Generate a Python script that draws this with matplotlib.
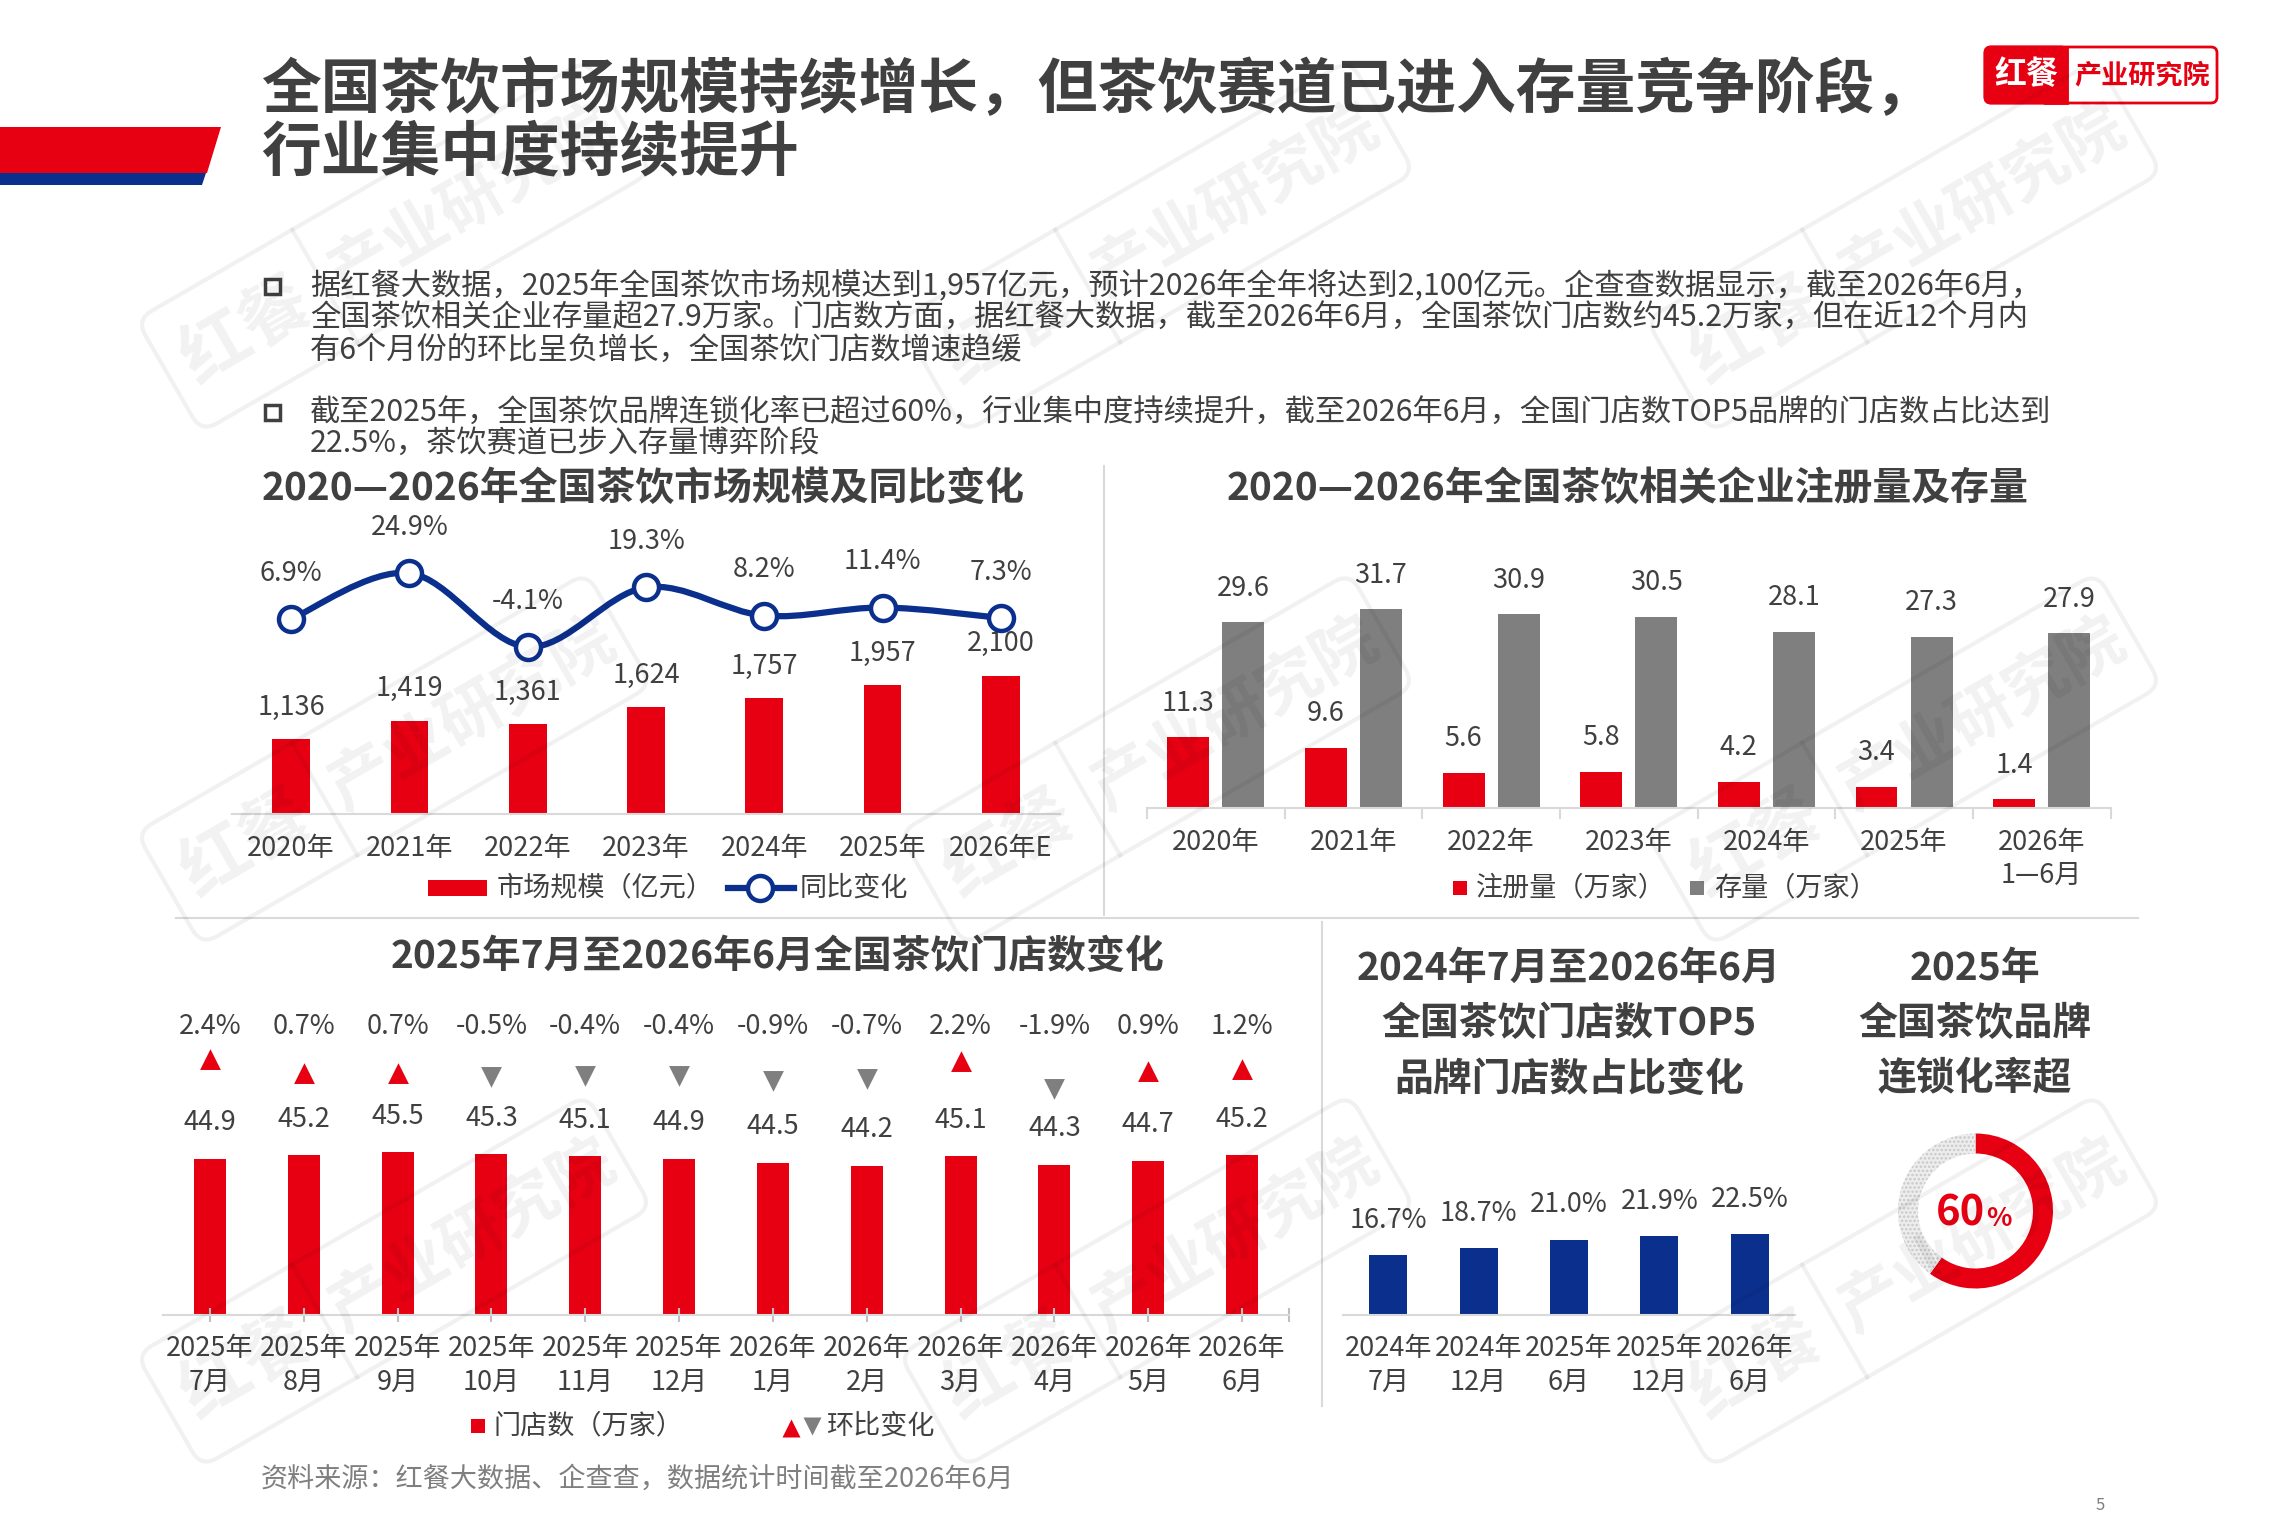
import matplotlib
matplotlib.use('Agg')
import matplotlib.pyplot as plt
from matplotlib.path import Path
from matplotlib.patches import PathPatch, Rectangle, Polygon, FancyBboxPatch
from matplotlib.transforms import Affine2D
import numpy as np

plt.rcParams['font.family'] = ['Noto Sans CJK SC', 'DejaVu Sans']
plt.rcParams['hatch.color'] = '#C8C8C8'
plt.rcParams['hatch.linewidth'] = 1.2

RED = '#E60012'
NAVY = '#0B2F8C'
GRAY_BAR = '#7F7F7F'
TXT = '#404040'
LINE = '#D9D9D9'
FS = 19.5

# ---- data ----
years = ['2020年', '2021年', '2022年', '2023年', '2024年', '2025年', '2026年E']
market = [1136, 1419, 1361, 1624, 1757, 1957, 2100]          # 亿元
market_yoy = [6.9, 24.9, -4.1, 19.3, 8.2, 11.4, 7.3]          # %

reg_years = ['2020年', '2021年', '2022年', '2023年', '2024年', '2025年', '2026年\n1—6月']
registered = [11.3, 9.6, 5.6, 5.8, 4.2, 3.4, 1.4]             # 万家
stock = [29.6, 31.7, 30.9, 30.5, 28.1, 27.3, 27.9]            # 万家

months = ['2025年\n7月', '2025年\n8月', '2025年\n9月', '2025年\n10月', '2025年\n11月',
          '2025年\n12月', '2026年\n1月', '2026年\n2月', '2026年\n3月', '2026年\n4月',
          '2026年\n5月', '2026年\n6月']
stores = [44.9, 45.2, 45.5, 45.3, 45.1, 44.9, 44.5, 44.2, 45.1, 44.3, 44.7, 45.2]
store_mom = [2.4, 0.7, 0.7, -0.5, -0.4, -0.4, -0.9, -0.7, 2.2, -1.9, 0.9, 1.2]

top5_periods = ['2024年\n7月', '2024年\n12月', '2025年\n6月', '2025年\n12月', '2026年\n6月']
top5_share = [16.7, 18.7, 21.0, 21.9, 22.5]

chain_rate = 60

# ---- layout helpers (pixel coords, origin top-left) ----
W, H = 2296, 1530
def rect(x0, y0, x1, y1):
    return [x0 / W, 1 - y1 / H, (x1 - x0) / W, (y1 - y0) / H]

fig = plt.figure(figsize=(22.96, 15.30), dpi=100)
bg = fig.add_axes([0, 0, 1, 1])
bg.set_xlim(0, W)
bg.set_ylim(H, 0)
bg.axis('off')

# header banner
bg.add_patch(Polygon([(0, 127), (221, 127), (207, 173), (0, 173)], closed=True, fc=RED, ec='none'))
bg.add_patch(Polygon([(0, 173), (206, 173), (202, 185), (0, 185)], closed=True, fc=NAVY, ec='none'))

bg.text(261, 91, '全国茶饮市场规模持续增长，但茶饮赛道已进入存量竞争阶段，', fontsize=43,
        fontweight='heavy', color=TXT, ha='left', va='center')
bg.text(261, 153, '行业集中度持续提升', fontsize=43, fontweight='heavy', color=TXT, ha='left', va='center')

# logo
bg.add_patch(FancyBboxPatch((1985, 47), 232, 56, boxstyle='round,pad=0,rounding_size=6',
                            fc='white', ec=RED, lw=2))
bg.add_patch(FancyBboxPatch((1985, 47), 82, 56, boxstyle='round,pad=0,rounding_size=6',
                            fc=RED, ec=RED, lw=2))
bg.add_patch(Rectangle((2045, 47), 22, 56, fc=RED, ec=RED, lw=2))
bg.text(2026, 75, '红餐', fontsize=23, fontweight='bold', color='white', ha='center', va='center')
bg.text(2142, 75, '产业研究院', fontsize=19.5, fontweight='bold', color=RED, ha='center', va='center')

# bullets
bullet1 = ['据红餐大数据，2025年全国茶饮市场规模达到1,957亿元，预计2026年全年将达到2,100亿元。企查查数据显示，截至2026年6月，',
           '全国茶饮相关企业存量超27.9万家。门店数方面，据红餐大数据，截至2026年6月，全国茶饮门店数约45.2万家，但在近12个月内',
           '有6个月份的环比呈负增长，全国茶饮门店数增速趋缓']
bullet2 = ['截至2025年，全国茶饮品牌连锁化率已超过60%，行业集中度持续提升，截至2026年6月，全国门店数TOP5品牌的门店数占比达到',
           '22.5%，茶饮赛道已步入存量博弈阶段']
for y0, lines in [(286, bullet1), (412, bullet2)]:
    bg.add_patch(Rectangle((265, y0 - 7.5), 15, 15, fc='white', ec=TXT, lw=2.5))
    for k, s in enumerate(lines):
        bg.text(310, y0 + k * 32.3, s, fontsize=21.8, color=TXT, ha='left', va='center')

# dividers
bg.plot([1104, 1104], [466, 915], color=LINE, lw=1.5)
bg.plot([176, 2138], [918, 918], color=LINE, lw=1.5)
bg.plot([1322, 1322], [922, 1406], color=LINE, lw=1.5)

# section titles
TFS = 28
bg.text(643, 488, '2020—2026年全国茶饮市场规模及同比变化', fontsize=TFS, fontweight='bold',
        color=TXT, ha='center', va='center')
bg.text(1628, 488, '2020—2026年全国茶饮相关企业注册量及存量', fontsize=TFS, fontweight='bold',
        color=TXT, ha='center', va='center')
bg.text(778, 956, '2025年7月至2026年6月全国茶饮门店数变化', fontsize=TFS, fontweight='bold',
        color=TXT, ha='center', va='center')
for k, s in enumerate(['2024年7月至2026年6月', '全国茶饮门店数TOP5', '品牌门店数占比变化']):
    bg.text(1569, 968 + k * 55.5, s, fontsize=TFS, fontweight='bold', color=TXT, ha='center', va='center')
for k, s in enumerate(['2025年', '全国茶饮品牌', '连锁化率超']):
    bg.text(1975, 968 + k * 55.5, s, fontsize=TFS, fontweight='bold', color=TXT, ha='center', va='center')

bg.text(261, 1479, '资料来源：红餐大数据、企查查，数据统计时间截至2026年6月', fontsize=19.5,
        color='#7F7F7F', ha='left', va='center')
bg.text(2100, 1505, '5', fontsize=12, color='#7F7F7F', ha='center', va='center')


def base_axis(ax):
    ax.set_facecolor('none')
    for s in ['top', 'right', 'left']:
        ax.spines[s].set_visible(False)
    ax.spines['bottom'].set_color(LINE)
    ax.spines['bottom'].set_linewidth(1.5)
    ax.set_yticks([])
    ax.tick_params(axis='x', length=0, labelbottom=False)


def cat_labels(ax, labels, off1, off2):
    for i, lab in enumerate(labels):
        parts = lab.split('\n')
        for part, off in zip(parts, (off1, off2)):
            ax.annotate(part, (i, 0), xycoords=('data', 'axes fraction'), xytext=(0, off),
                        textcoords='offset points', ha='center', va='center', fontsize=FS,
                        color=TXT, annotation_clip=False)


# ---- chart 1: market size + yoy ----
ax1 = fig.add_axes(rect(232, 530, 1060, 814))
base_axis(ax1)
x1 = np.arange(len(years))
ax1.bar(x1, market, width=0.32, color=RED)
ax1.set_xlim(-0.5, 6.5)
ax1.set_ylim(0, 4316)
for i, v in enumerate(market):
    ax1.annotate(f'{v:,}', (i, v), xytext=(0, 23), textcoords='offset points',
                 ha='center', va='center', fontsize=FS, color=TXT)
cat_labels(ax1, years, -24.5, -48)

ax1b = ax1.twinx()
ax1b.set_ylim(-69.6, 41.8)
ax1b.axis('off')
pts = np.column_stack([x1, market_yoy]).astype(float)
ext = np.vstack([pts[0], pts, pts[-1]])
verts = [tuple(pts[0])]
codes = [Path.MOVETO]
for i in range(len(pts) - 1):
    p0, p1, p2, p3 = ext[i], ext[i + 1], ext[i + 2], ext[i + 3]
    verts += [tuple(p1 + (p2 - p0) / 6), tuple(p2 - (p3 - p1) / 6), tuple(p2)]
    codes += [Path.CURVE4] * 3
ax1b.add_patch(PathPatch(Path(verts, codes), fc='none', ec=NAVY, lw=4.5, clip_on=False))
ax1b.plot(x1, market_yoy, 'o', ms=18, mfc='white', mec=NAVY, mew=3.2, clip_on=False)
for i, v in enumerate(market_yoy):
    ax1b.annotate(f'{v}%', (i, v), xytext=(0, 33), textcoords='offset points',
                  ha='center', va='center', fontsize=FS, color=TXT)

bg.add_patch(Rectangle((428, 880), 59, 16, fc=RED, ec='none'))
bg.text(497, 888, '市场规模（亿元）', fontsize=FS, color=TXT, ha='left', va='center')
bg.plot([728, 794], [888, 888], color=NAVY, lw=4.5)
bg.plot([760], [888], 'o', ms=18, mfc='white', mec=NAVY, mew=3.2)
bg.text(800, 888, '同比变化', fontsize=FS, color=TXT, ha='left', va='center')

# ---- chart 2: registrations and stock ----
ax2 = fig.add_axes(rect(1147, 550, 2110.5, 808))
base_axis(ax2)
x2 = np.arange(len(reg_years))
ax2.bar(x2 - 0.2, registered, width=0.305, color=RED)
ax2.bar(x2 + 0.2, stock, width=0.305, color=GRAY_BAR)
ax2.set_xlim(-0.5, 6.5)
ax2.set_ylim(0, 41.15)
ax2.set_xticks(np.arange(-0.5, 7, 1))
ax2.tick_params(axis='x', length=8, width=1.5, color=LINE, direction='out')
for i in range(len(reg_years)):
    ax2.annotate(f'{registered[i]}', (i - 0.2, registered[i]), xytext=(0, 24.5), textcoords='offset points',
                 ha='center', va='center', fontsize=FS, color=TXT)
    ax2.annotate(f'{stock[i]}', (i + 0.2, stock[i]), xytext=(0, 24.5), textcoords='offset points',
                 ha='center', va='center', fontsize=FS, color=TXT)
cat_labels(ax2, reg_years, -24.5, -48.2)

bg.add_patch(Rectangle((1453, 881), 14, 14, fc=RED, ec='none'))
bg.text(1476, 888, '注册量（万家）', fontsize=FS, color=TXT, ha='left', va='center')
bg.add_patch(Rectangle((1690, 881), 14, 14, fc=GRAY_BAR, ec='none'))
bg.text(1714, 888, '存量（万家）', fontsize=FS, color=TXT, ha='left', va='center')

# ---- chart 3: monthly stores ----
ax3 = fig.add_axes(rect(163, 990, 1289, 1315))
base_axis(ax3)
x3 = np.arange(len(months))
ax3.bar(x3, stores, width=0.34, color=RED)
ax3.set_xlim(-0.5, 11.5)
ax3.set_ylim(30, 60.95)
ax3.set_xticks(list(x3) + [11.5])
ax3.tick_params(axis='x', length=10, width=1.5, color='#BFBFBF', direction='inout')
for i, v in enumerate(stores):
    ax3.annotate(f'{v}', (i, v), xytext=(0, 26), textcoords='offset points',
                 ha='center', va='center', fontsize=FS, color=TXT)
cat_labels(ax3, months, -23.8, -48.2)

ax3b = ax3.twinx()
ax3b.set_ylim(-28.45, 10.24)
ax3b.axis('off')
up_mark = Path([(0, 0.54), (-0.77, -1), (0.77, -1), (0, 0.54)], closed=True)
down_mark = Path([(0, -0.54), (-0.77, 1), (0.77, 1), (0, -0.54)], closed=True)
for i, v in enumerate(store_mom):
    if v >= 0:
        ax3b.plot(i, v, marker=up_mark, ms=19.4, color=RED, mec='none', clip_on=False)
    else:
        ax3b.plot(i, v, marker=down_mark, ms=19.4, color=GRAY_BAR, mec='none', clip_on=False)
    ax3b.text(i, 5.87, f'{v}%', ha='center', va='center', fontsize=FS, color=TXT)

bg.add_patch(Rectangle((471, 1419), 14, 14, fc=RED, ec='none'))
bg.text(493, 1426, '门店数（万家）', fontsize=FS, color=TXT, ha='left', va='center')
bg.plot([791], [1428], marker='^', ms=13, color=RED, mec='none')
bg.plot([812], [1426], marker='v', ms=13, color=GRAY_BAR, mec='none')
bg.text(826, 1426, '环比变化', fontsize=FS, color=TXT, ha='left', va='center')

# ---- chart 4: TOP5 share ----
ax4 = fig.add_axes(rect(1343, 1130, 1795, 1315))
base_axis(ax4)
x4 = np.arange(len(top5_periods))
ax4.bar(x4, top5_share, width=0.42, color=NAVY)
ax4.set_xlim(-0.5, 4.5)
ax4.set_ylim(0, 51.5)
for i, v in enumerate(top5_share):
    ax4.annotate(f'{v:.1f}%', (i, v), xytext=(0, 25), textcoords='offset points',
                 ha='center', va='center', fontsize=FS, color=TXT)
cat_labels(ax4, top5_periods, -23.8, -48.2)

# ---- chart 5: chain rate donut ----
cx, cy, R = 1975.5, 1211, 77.5
axd = fig.add_axes(rect(cx - R, cy - R, cx + R, cy + R))
axd.pie([chain_rate, 100 - chain_rate], startangle=90, counterclock=False,
        colors=[RED, '#EDEDED'], hatch=['', '....'], wedgeprops=dict(width=20 / R, linewidth=0))
axd.set_xlim(-1, 1)
axd.set_ylim(-1, 1)
bg.text(cx + 10, cy + 15, f'{chain_rate}', fontsize=30, fontweight='bold', color=RED,
        ha='right', va='baseline')
bg.text(cx + 11, cy + 15, '%', fontsize=19, fontweight='bold', color=RED, ha='left', va='baseline')

# ---- watermarks ----
wm = fig.add_axes([0, 0, 1, 1], zorder=10)
wm.set_xlim(0, W)
wm.set_ylim(0, H)
wm.axis('off')
wm.set_facecolor('none')
ang = 30
rot = np.array([[np.cos(np.radians(ang)), -np.sin(np.radians(ang))],
                [np.sin(np.radians(ang)), np.cos(np.radians(ang))]])
wm_col = (0, 0, 0, 0.055)
for cxw in [394, 1157, 1904]:
    for cyw in [246, 759, 1281]:
        c = np.array([cxw, H - cyw])
        tr = Affine2D().rotate_deg(ang).translate(*c) + wm.transData
        wm.add_patch(FancyBboxPatch((-260, -65), 520, 130, boxstyle='round,pad=0,rounding_size=18',
                                    fc='none', ec=wm_col, lw=3, transform=tr))
        wm.plot([-80, -80], [-65, 65], color=wm_col, lw=3, transform=tr)
        p = rot @ np.array([-170, 0]) + c
        wm.text(p[0], p[1], '红餐', fontsize=50, fontweight='bold', color=wm_col,
                rotation=ang, rotation_mode='anchor', ha='center', va='center')
        p = rot @ np.array([90, 0]) + c
        wm.text(p[0], p[1], '产业研究院', fontsize=46, fontweight='bold', color=wm_col,
                rotation=ang, rotation_mode='anchor', ha='center', va='center')

fig.savefig('out.png', dpi=100)
